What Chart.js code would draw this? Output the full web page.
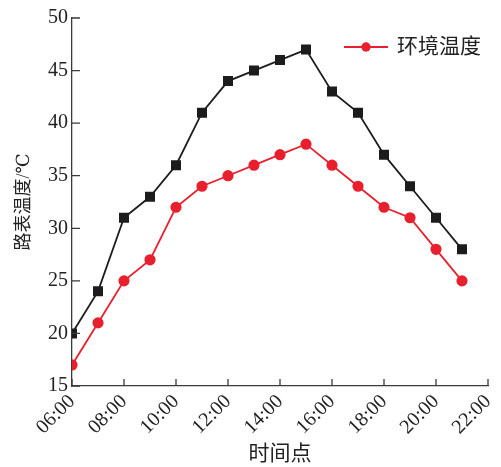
<!DOCTYPE html>
<html>
<head>
<meta charset="utf-8">
<script src="https://cdn.jsdelivr.net/npm/chart.js@4/dist/chart.umd.min.js"></script>
<style>
html,body{margin:0;padding:0;background:#fff;}
#wrap{width:501px;height:467px;}
</style>
</head>
<body>
<div id="wrap"><canvas id="c" width="501" height="467"></canvas></div>
<script>
const hours = [6,7,8,9,10,11,12,13,14,15,16,17,18,19,20,21];
const roadTemp = [20,24,31,33,36,41,44,45,46,47,43,41,37,34,31,28];
const airTemp = [17,21,25,27,32,34,35,36,37,38,36,34,32,31,28,25];
const xTickLabels = ['06:00','08:00','10:00','12:00','14:00','16:00','18:00','20:00','22:00'];
const seriesNames = ['路表温度','环境温度'];

const FONT = '"Liberation Serif","Times New Roman",Times,"DejaVu Serif","Noto Sans CJK SC",serif';
const BLACK = '#1c1c1c';
const RED = '#e8202e';
const AXIS = '#3a3a3a';

const innerTicks = {
  id:'innerTicks',
  afterDraw(chart){
    const ctx = chart.ctx, a = chart.chartArea;
    const xs = chart.scales.x, ys = chart.scales.y;
    ctx.save();
    ctx.strokeStyle = AXIS; ctx.lineWidth = 1.3;
    ctx.beginPath();
    xs.ticks.forEach(t=>{ const px = xs.getPixelForValue(t.value); ctx.moveTo(px,a.bottom); ctx.lineTo(px,a.bottom-7); });
    ys.ticks.forEach(t=>{ const py = ys.getPixelForValue(t.value); ctx.moveTo(a.left,py); ctx.lineTo(a.left+8,py); });
    ctx.stroke();
    ctx.restore();
  }
};

// legend drawn from the dataset's own style (only the ambient series is listed)
const cornerLegend = {
  id:'cornerLegend',
  afterDraw(chart){
    const ds = chart.data.datasets[1];
    const ctx = chart.ctx;
    const x0 = 344, x1 = 388, y = 47;
    ctx.save();
    ctx.strokeStyle = ds.borderColor; ctx.lineWidth = ds.borderWidth;
    ctx.beginPath(); ctx.moveTo(x0,y); ctx.lineTo(x1,y); ctx.stroke();
    ctx.fillStyle = ds.backgroundColor;
    ctx.beginPath(); ctx.arc((x0+x1)/2, y, ds.pointRadius, 0, Math.PI*2); ctx.fill();
    ctx.fillStyle = '#222';
    ctx.font = '21px ' + FONT;
    ctx.textBaseline = 'middle'; ctx.textAlign = 'left';
    ctx.fillText(ds.label, 397, y);
    ctx.restore();
  }
};

new Chart(document.getElementById('c'), {
  type:'line',
  data:{
    datasets:[
      {label:seriesNames[0], data:hours.map((h,i)=>({x:h,y:roadTemp[i]})), borderColor:BLACK, backgroundColor:BLACK,
       borderWidth:1.8, pointStyle:'rect', pointRadius:5.8, pointHoverRadius:5.8, tension:0},
      {label:seriesNames[1], data:hours.map((h,i)=>({x:h,y:airTemp[i]})), borderColor:RED, backgroundColor:RED,
       borderWidth:1.8, pointStyle:'circle', pointRadius:4.7, pointHoverRadius:4.7, tension:0}
    ]
  },
  options:{
    responsive:false, animation:false,
    layout:{padding:{left:0,right:13,top:18,bottom:0}},
    plugins:{
      tooltip:{enabled:false},
      legend:{display:false}
    },
    scales:{
      x:{
        type:'linear', min:6, max:22,
        afterFit:(s)=>{s.height=81; s.paddingLeft=0; s.paddingRight=0;},
        grid:{display:true, drawOnChartArea:false, drawTicks:false},
        border:{display:true, color:AXIS, width:1.3},
        ticks:{stepSize:2, maxRotation:45, minRotation:45, padding:4, color:'#222',
               font:{family:FONT,size:20},
               callback:(v)=>xTickLabels[(v-6)/2]},
        title:{display:true, text:'时间点', color:'#222', font:{family:FONT,size:21}, padding:{top:0,bottom:0}}
      },
      y:{
        min:15, max:50,
        afterFit:(s)=>{s.width=72; s.paddingTop=0; s.paddingBottom=0;},
        grid:{display:true, drawOnChartArea:false, drawTicks:false},
        border:{display:true, color:AXIS, width:1.3},
        ticks:{stepSize:5, padding:4, color:'#222', font:{family:FONT,size:20}},
        title:{display:true, text:'路表温度/℃', color:'#222', font:{family:FONT,size:18}, padding:{top:13,bottom:0}}
      }
    }
  },
  plugins:[innerTicks, cornerLegend]
});
</script>
</body>
</html>
